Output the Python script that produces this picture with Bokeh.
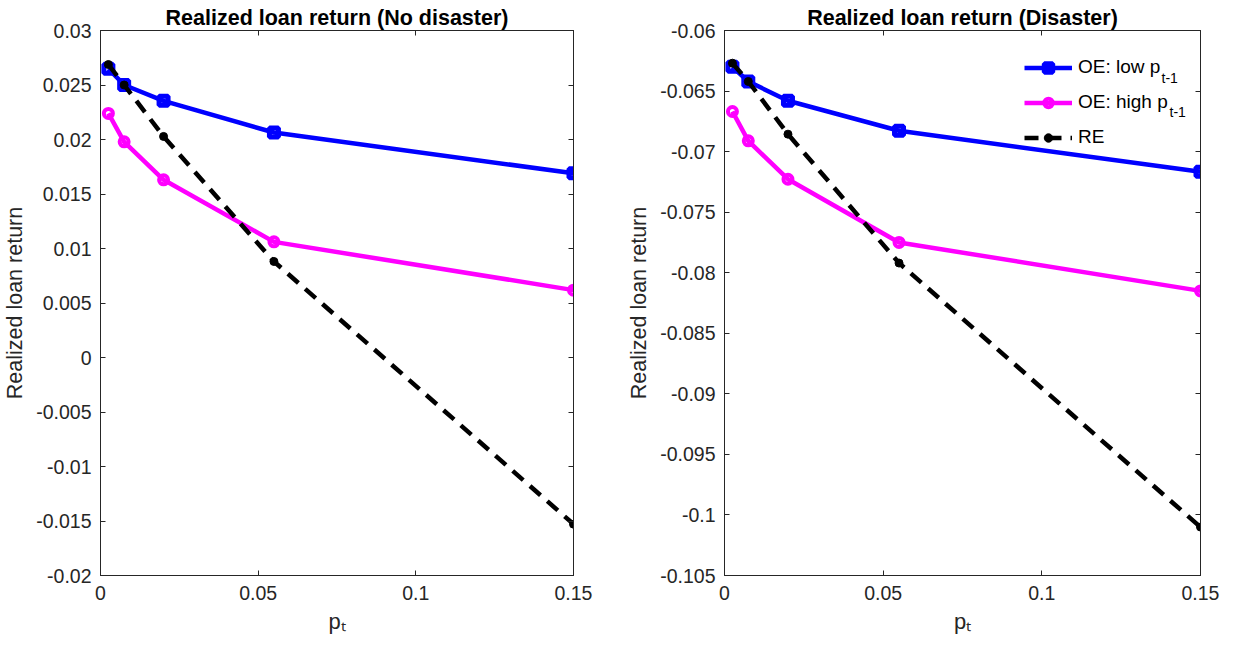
from bokeh.plotting import figure
from bokeh.models import (LinearAxis, FixedTicker, CustomJSTickFormatter, Range1d,
                          Label, Legend, LegendItem)
from bokeh.layouts import row
from bokeh.embed import file_html
from bokeh.resources import INLINE

# ---------------- data ----------------
p_t = [0.0025, 0.0075, 0.02, 0.055, 0.15]
x_ticks = [0, 0.05, 0.1, 0.15]

nd_oe_low = [0.0265, 0.0250, 0.02355, 0.02064, 0.0169]
nd_oe_high = [0.02239, 0.01979, 0.0163, 0.01061, 0.00618]
nd_re = [0.02688, 0.0250, 0.02028, 0.00881, -0.01529]
nd_y_ticks = [-0.02, -0.015, -0.01, -0.005, 0, 0.005, 0.01, 0.015, 0.02, 0.025, 0.03]

d_oe_low = [-0.0630, -0.06421, -0.0658, -0.06828, -0.07167]
d_oe_high = [-0.06669, -0.06911, -0.07228, -0.0775, -0.0815]
d_re = [-0.0627, -0.06421, -0.06856, -0.0792, -0.1010]
d_y_ticks = [-0.105, -0.1, -0.095, -0.09, -0.085, -0.08, -0.075, -0.07, -0.065, -0.06]

titles = ["Realized loan return (No disaster)", "Realized loan return (Disaster)"]
y_label = "Realized loan return"
x_label = "p\u209c"
legend_labels = ["OE: low p", "OE: high p", "RE"]

# ---------------- style ----------------
FONT = "Liberation Sans"
AX = "#262626"
BLUE = "#0000FF"
MAG = "#FF00FF"
FRAME_H = 545
TOP = 30
HEIGHT = 641


def fmt():
    return CustomJSTickFormatter(code="return tick.toFixed(3).replace(/\\.?0+$/, '');")


def blank():
    return CustomJSTickFormatter(code="return '';")


def style_axis(ax, ticks, labels=True, standoff=9):
    ax.ticker = FixedTicker(ticks=ticks)
    ax.formatter = fmt() if labels else blank()
    ax.major_tick_in = 5
    ax.major_tick_out = 0
    ax.minor_tick_in = 0
    ax.minor_tick_out = 0
    ax.axis_line_color = AX
    ax.major_tick_line_color = AX
    ax.major_label_text_font = FONT
    ax.major_label_text_font_size = "19.5px" if labels else "1px"
    ax.major_label_text_color = AX
    ax.major_label_standoff = standoff if labels else 0


def make_panel(title, ylo, yhi, yticks, oe_low, oe_high, re, width, left, right, frame_w,
               legend=False):
    p = figure(width=width, height=HEIGHT, output_backend="svg", toolbar_location=None,
               x_range=Range1d(0, 0.15), y_range=Range1d(ylo, yhi),
               min_border_left=left, min_border_right=right,
               min_border_top=TOP, min_border_bottom=HEIGHT - TOP - FRAME_H,
               background_fill_color="white", border_fill_color="white",
               title=title)
    p.grid.visible = False
    p.outline_line_color = AX
    p.outline_line_width = 1

    p.title.align = "center"
    p.title.text_font = FONT
    p.title.text_font_size = "21.5px"
    p.title.text_font_style = "bold"
    p.title.text_color = "black"
    p.title.standoff = 2

    style_axis(p.xaxis[0], x_ticks, standoff=10)
    style_axis(p.yaxis[0], yticks)
    p.yaxis[0].axis_label = y_label
    p.yaxis[0].axis_label_text_font = FONT
    p.yaxis[0].axis_label_text_font_size = "21.5px"
    p.yaxis[0].axis_label_text_font_style = "normal"
    p.yaxis[0].axis_label_text_color = AX
    p.yaxis[0].axis_label_standoff = 6
    p.xaxis[0].axis_label = x_label
    p.xaxis[0].axis_label_text_font = FONT
    p.xaxis[0].axis_label_text_font_size = "22px"
    p.xaxis[0].axis_label_text_font_style = "normal"
    p.xaxis[0].axis_label_text_color = AX
    p.xaxis[0].axis_label_standoff = 6

    ra = LinearAxis()
    style_axis(ra, yticks, labels=False)
    p.add_layout(ra, "right")
    ta = LinearAxis()
    style_axis(ta, x_ticks, labels=False)
    p.add_layout(ta, "above")

    l1 = p.line(p_t, oe_low, line_color=BLUE, line_width=4.5)
    s1 = p.scatter(p_t, oe_low, marker="square", size=9, line_width=5,
                   line_color=BLUE, fill_color=None)
    l2 = p.line(p_t, oe_high, line_color=MAG, line_width=4.5)
    s2 = p.scatter(p_t, oe_high, marker="circle", size=9, line_width=4,
                   line_color=MAG, fill_color=None)
    l3 = p.line(p_t, re, line_color="black", line_width=4.5, line_dash="14 9")
    s3 = p.scatter(p_t, re, marker="circle", size=8, line_color="black",
                   fill_color="black")

    if legend:
        items = [LegendItem(label=legend_labels[0], renderers=[l1, s1]),
                 LegendItem(label=legend_labels[1], renderers=[l2, s2]),
                 LegendItem(label=legend_labels[2], renderers=[l3, s3])]
        leg_x, leg_bottom = 300, 427
        lg = Legend(items=items, location=(leg_x, leg_bottom), padding=0, margin=0,
                    spacing=13, label_height=21, glyph_height=21, glyph_width=48,
                    label_standoff=6, border_line_alpha=0, background_fill_alpha=0,
                    label_text_font=FONT, label_text_font_size="19px",
                    label_text_color="black")
        p.add_layout(lg)
        text_x = leg_x + 48 + 6
        # subscripts t-1 after "OE: low p" and "OE: high p"
        for dx, yc in [(83, 506), (91, 472)]:
            p.add_layout(Label(x=text_x + dx, y=yc - 8, x_units="screen", y_units="screen",
                               text="t-1", text_align="left", text_baseline="middle",
                               text_font=FONT, text_font_size="14px", text_color="black"))
    return p


W1 = 96 + 477 + 25
left = make_panel(titles[0], -0.02, 0.03, nd_y_ticks, nd_oe_low, nd_oe_high, nd_re,
                  W1, 96, 25, 477)
L2 = 732 - 8 - W1
right = make_panel(titles[1], -0.105, -0.06, d_y_ticks, d_oe_low, d_oe_high, d_re,
                   L2 + 476 + 20, L2, 20, 476, legend=True)

layout = row(left, right)
open("out.html", "w").write(file_html(layout, INLINE))
